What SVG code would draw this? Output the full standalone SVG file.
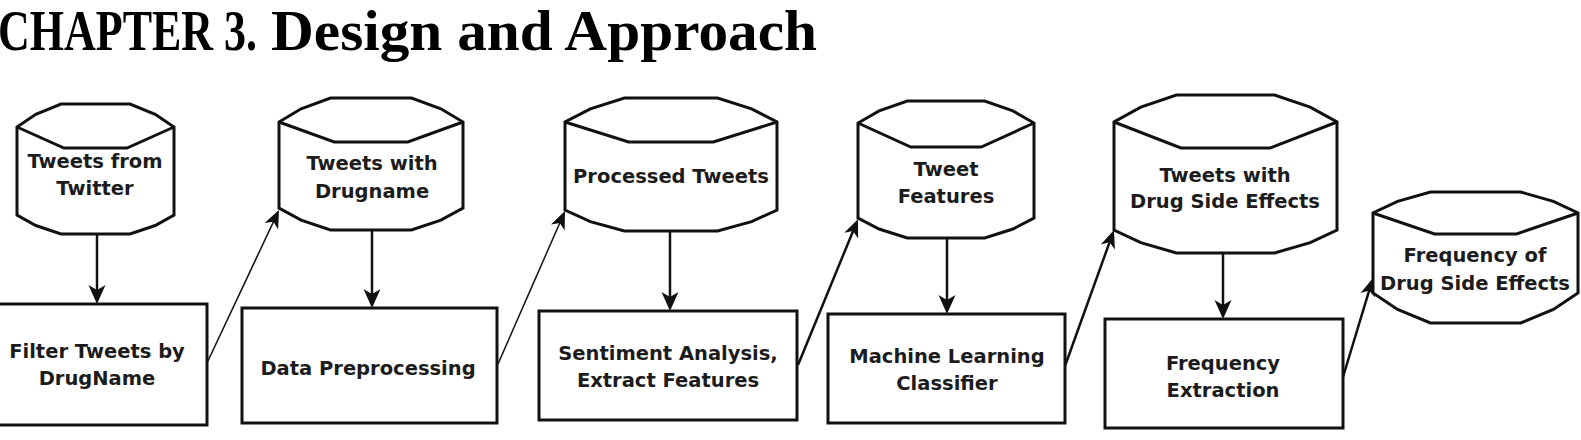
<svg xmlns="http://www.w3.org/2000/svg" width="1581" height="440" viewBox="0 0 1581 440">
  <style>
    .title { font-family: "Liberation Serif", "Times New Roman", serif; font-weight: bold; font-size: 57px; fill: #000; }
    .shape { fill: #fff; stroke: #111; stroke-width: 3; stroke-linejoin: miter; }
    .rim { fill: none; stroke: #111; stroke-width: 3; }
    .label { font-family: "DejaVu Sans", "Verdana", sans-serif; font-weight: bold; font-size: 19.5px; fill: #1c1c1c; text-anchor: middle; }
    .flow { fill: none; stroke: #111; stroke-width: 2.5; }
    .flow-thin { fill: none; stroke: #111; stroke-width: 1.5; }
  </style>
  <defs>
    <marker id="head" markerUnits="userSpaceOnUse" orient="auto" refX="0" refY="0" markerWidth="40" markerHeight="40" viewBox="-20 -20 40 40" overflow="visible">
      <path d="M4,0 L-15,-8.5 L-10,0 L-15,8.5 Z" fill="#111"/>
    </marker>
    <marker id="head-d" markerUnits="userSpaceOnUse" orient="auto" refX="0" refY="0" markerWidth="40" markerHeight="40" viewBox="-20 -20 40 40" overflow="visible">
      <path d="M4,0 L-14,-7.5 L-9,0 L-14,7.5 Z" fill="#111"/>
    </marker>
  </defs>

  <rect x="0" y="0" width="1581" height="440" fill="#fff"/>

  <g id="title">
    <!-- chapter number set in a narrowed cut of the heading face -->
    <text class="title" transform="translate(-2,50) scale(0.772,1)" x="0" y="0">CHAPTER 3.</text>
    <text class="title" x="271" y="50" textLength="546" lengthAdjust="spacingAndGlyphs">Design and Approach</text>
  </g>

  <!-- connectors -->
  <g id="connectors">
    <line class="flow" x1="97" y1="234" x2="97" y2="300" marker-end="url(#head)"/>
    <line class="flow" x1="372" y1="230" x2="372" y2="304" marker-end="url(#head)"/>
    <line class="flow" x1="670" y1="231" x2="670" y2="307" marker-end="url(#head)"/>
    <line class="flow" x1="947" y1="238" x2="947" y2="310" marker-end="url(#head)"/>
    <line class="flow" x1="1223" y1="253" x2="1223" y2="315" marker-end="url(#head)"/>

    <line class="flow-thin" x1="207" y1="363" x2="277.3" y2="213.6" marker-end="url(#head-d)"/>
    <line class="flow-thin" x1="498" y1="364" x2="563.4" y2="214.7" marker-end="url(#head-d)"/>
    <line class="flow" x1="798" y1="365" x2="856.5" y2="222.7" marker-end="url(#head-d)"/>
    <line class="flow" x1="1065" y1="366" x2="1112.6" y2="233.8" marker-end="url(#head-d)"/>
    <line class="flow" x1="1343" y1="377" x2="1371.8" y2="281.8" marker-end="url(#head-d)"/>
  </g>

  <!-- data stores -->
  <g id="store-tweets-from-twitter">
    <path class="shape" d="M17,215 L17,127 L35.8,114.3 L61,104 L130,104 L155.2,114.3 L174,127 L174,215 L155.2,225.5 L130,234 L61,234 L35.8,225.5 Z"/>
    <path class="rim" d="M17,127 L64,148 L127,148 L174,127"/>
    <text class="label" x="95" y="168">Tweets from</text>
    <text class="label" x="95" y="195">Twitter</text>
  </g>

  <g id="store-tweets-with-drugname">
    <path class="shape" d="M279,208 L279,122 L301.1,108.8 L330.5,98 L411.5,98 L440.9,108.8 L463,122 L463,208 L440.9,220.1 L411.5,230 L330.5,230 L301.1,220.1 Z"/>
    <path class="rim" d="M279,122 L334.2,142 L407.8,142 L463,122"/>
    <text class="label" x="372" y="170">Tweets with</text>
    <text class="label" x="372" y="198">Drugname</text>
  </g>

  <g id="store-processed-tweets">
    <path class="shape" d="M565,210 L565,122 L590.4,108.8 L624.4,98 L717.6,98 L751.6,108.8 L777,122 L777,210 L751.6,221.6 L717.6,231 L624.4,231 L590.4,221.6 Z"/>
    <path class="rim" d="M565,122 L628.6,142 L713.4,142 L777,122"/>
    <text class="label" x="671" y="183">Processed Tweets</text>
  </g>

  <g id="store-tweet-features">
    <path class="shape" d="M858,218 L858,123 L879.1,110.9 L907.3,101 L984.7,101 L1012.9,110.9 L1034,123 L1034,218 L1012.9,229 L984.7,238 L907.3,238 L879.1,229 Z"/>
    <path class="rim" d="M858,123 L910.8,147 L981.2,147 L1034,123"/>
    <text class="label" x="946" y="176">Tweet</text>
    <text class="label" x="946" y="203">Features</text>
  </g>

  <g id="store-tweets-with-side-effects">
    <path class="shape" d="M1114,230 L1114,122 L1140.8,107.1 L1176.4,95 L1274.6,95 L1310.2,107.1 L1337,122 L1337,230 L1310.2,242.7 L1274.6,253 L1176.4,253 L1140.8,242.7 Z"/>
    <path class="rim" d="M1114,122 L1180.9,148 L1270.1,148 L1337,122"/>
    <text class="label" x="1225" y="182">Tweets with</text>
    <text class="label" x="1225" y="208">Drug Side Effects</text>
  </g>

  <g id="store-side-effect-frequency">
    <path class="shape" d="M1373,293 L1373,213 L1397.6,201.4 L1430.4,192 L1520.6,192 L1553.4,201.4 L1578,213 L1578,293 L1553.4,309.5 L1520.6,323 L1430.4,323 L1397.6,309.5 Z"/>
    <path class="rim" d="M1373,213 L1434.5,234 L1516.5,234 L1578,213"/>
    <text class="label" x="1475" y="262">Frequency of</text>
    <text class="label" x="1475" y="290">Drug Side Effects</text>
  </g>

  <!-- processing steps -->
  <g id="step-filter">
    <rect class="shape" x="-3" y="304" width="210" height="121"/>
    <text class="label" x="97" y="358">Filter Tweets by</text>
    <text class="label" x="97" y="385">DrugName</text>
  </g>

  <g id="step-preprocessing">
    <rect class="shape" x="242" y="308" width="255" height="115"/>
    <text class="label" x="368" y="375">Data Preprocessing</text>
  </g>

  <g id="step-sentiment">
    <rect class="shape" x="539" y="311" width="258" height="109"/>
    <text class="label" x="668" y="360">Sentiment Analysis,</text>
    <text class="label" x="668" y="387">Extract Features</text>
  </g>

  <g id="step-classifier">
    <rect class="shape" x="828" y="314" width="237" height="109"/>
    <text class="label" x="947" y="363">Machine Learning</text>
    <text class="label" x="947" y="390">Classifier</text>
  </g>

  <g id="step-frequency">
    <rect class="shape" x="1105" y="319" width="238" height="109"/>
    <text class="label" x="1223" y="370">Frequency</text>
    <text class="label" x="1223" y="397">Extraction</text>
  </g>
</svg>
